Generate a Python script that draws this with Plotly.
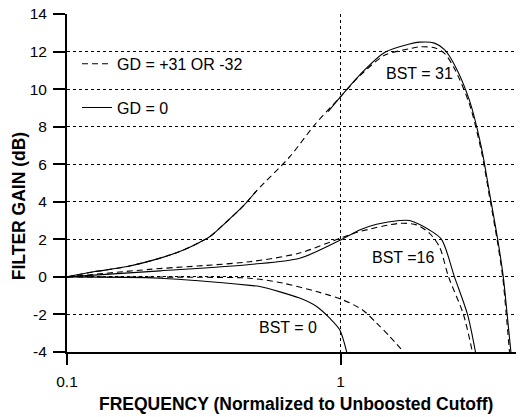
import numpy as np
import plotly.graph_objects as go

# ---- data ----
# BST = 31
f31_dash = [0.1, 0.125, 0.166, 0.219, 0.258, 0.306, 0.333, 0.384, 0.439, 0.494, 0.652, 0.804, 1.0,
            1.173, 1.447, 1.786, 1.942, 2.204, 2.396, 2.605, 2.956, 3.268, 3.497, 3.739, 3.91, 4.03, 4.14]
g31_dash = [0.0, 0.27, 0.55, 1.0, 1.35, 1.85, 2.15, 2.95, 3.75, 4.6, 6.4, 8.1, 9.6,
            10.7, 11.8, 12.15, 12.25, 12.2, 11.9, 11.1, 9.2, 6.7, 4.3, 1.9, 0.0, -2.0, -4.0]
f31_solid = [0.1, 0.125, 0.166, 0.219, 0.258, 0.306, 0.333, 0.384, 0.439, 0.494, None,
             0.9, 1.0, 1.173, 1.447, 1.786, 1.942, 2.204, 2.396, 2.605, 2.956, 3.268, 3.497, 3.739, 3.93, 4.06, 4.19]
g31_solid = [0.0, 0.27, 0.55, 1.0, 1.35, 1.85, 2.15, 2.95, 3.75, 4.6, None,
             8.8, 9.6, 10.75, 11.95, 12.4, 12.5, 12.45, 12.1, 11.3, 9.4, 6.9, 4.5, 2.1, 0.0, -2.0, -4.0]
# BST = 16
f16_dash = [0.1, 0.2, 0.466, 0.708, 1.0, 1.173, 1.642, 1.894, 2.11, 2.297, 2.48, 2.81, 3.03]
g16_dash = [0.0, 0.4, 0.81, 1.27, 2.07, 2.41, 2.85, 2.77, 2.33, 1.6, 0.0, -2.0, -4.0]
f16_solid = [0.1, 0.219, 0.466, 0.708, 1.0, 1.173, 1.353, 1.642, 1.786, 2.11, 2.337, 2.606, 2.908, 3.11]
g16_solid = [0.0, 0.32, 0.66, 0.99, 1.97, 2.5, 2.8, 3.0, 3.0, 2.5, 2.0, 0.0, -2.0, -4.0]
# BST = 0
f0_dash = [0.1, 0.3, 0.466, 0.614, 0.817, 1.017, 1.203, 1.353, 1.51, 1.70]
g0_dash = [0.0, -0.02, -0.07, -0.33, -0.78, -1.22, -1.76, -2.46, -3.17, -4.0]
f0_solid = [0.1, 0.219, 0.466, 0.506, 0.708, 0.817, 0.912, 0.992, 1.052]
g0_solid = [0.0, -0.07, -0.45, -0.51, -1.13, -1.58, -2.2, -2.82, -4.0]

legend_names = ["GD = +31 OR -32", "GD = 0"]
curve_labels = ["BST = 31", "BST =16", "BST = 0"]
label_f = [1.94, 1.70, 0.641]
label_g = [10.85, 1.01, -2.71]

x_ticks = [0.1, 1, 4.6]
x_ticktext = ["0.1", "1", "4"]
y_ticks = [-4, -2, 0, 2, 4, 6, 8, 10, 12, 14]
y_ticktext = ["-4", "-2", "0", "2", "4", "6", "8", "10", "12", "14"]
x_title = "FREQUENCY (Normalized to Unboosted Cutoff)"
y_title = "FILTER GAIN (dB)"

FONT = "Liberation Sans, Arial, Helvetica, sans-serif"
DASH = "6px,4px"

fig = go.Figure()
series = [
    (f31_dash, g31_dash, DASH, "gd31", True, legend_names[0]),
    (f31_solid, g31_solid, "solid", "gd0", True, legend_names[1]),
    (f16_dash, g16_dash, DASH, "gd31", False, legend_names[0]),
    (f16_solid, g16_solid, "solid", "gd0", False, legend_names[1]),
    (f0_dash, g0_dash, DASH, "gd31", False, legend_names[0]),
    (f0_solid, g0_solid, "solid", "gd0", False, legend_names[1]),
]
for fx, gy, dash, grp, show, name in series:
    fig.add_trace(go.Scatter(
        x=fx, y=gy, mode="lines", name=name, legendgroup=grp, showlegend=show,
        line=dict(color="black", width=1.1, dash=dash, shape="spline", smoothing=0.8),
        connectgaps=False,
    ))

for txt, fx, gy in zip(curve_labels, label_f, label_g):
    fig.add_annotation(x=np.log10(fx), y=gy, text=txt, showarrow=False,
                       font=dict(family=FONT, size=16, color="black"))

fig.add_annotation(x=0.503, y=-0.154, xref="paper", yref="paper", text="<b>%s</b>" % x_title,
                   xanchor="center", yanchor="middle",
                   showarrow=False, font=dict(family=FONT, size=17.5, color="black"))
fig.add_annotation(x=-0.105, y=0.432, xref="paper", yref="paper", text="<b>%s</b>" % y_title,
                   xanchor="center", yanchor="middle", borderpad=0,
                   textangle=-90, showarrow=False, font=dict(family=FONT, size=17.5, color="black"))

fig.update_layout(
    width=516, height=409,
    margin=dict(l=59, r=2, t=6, b=65, autoexpand=False),
    paper_bgcolor="white", plot_bgcolor="white",
    font=dict(family=FONT, size=15.5, color="black"),
    legend=dict(x=0.022, y=0.903, xanchor="left", yanchor="top", bgcolor="rgba(0,0,0,0)",
                traceorder="grouped", tracegroupgap=20, font=dict(size=16)),
    xaxis=dict(type="log", range=[np.log10(0.1), np.log10(4.6)], automargin=False,
               tickvals=x_ticks, ticktext=x_ticktext, ticklabeloverflow="allow",
               showgrid=True, gridcolor="black", gridwidth=1, griddash="3px,3px",
               showline=True, linecolor="black", linewidth=2.2,
               ticks="outside", ticklen=11, tickwidth=2, tickcolor="black",
               ticklabelstandoff=3, zeroline=False),
    yaxis=dict(range=[-4, 14], tickvals=y_ticks, ticktext=y_ticktext, automargin=False,
               ticklabeloverflow="allow",
               showgrid=True, gridcolor="black", gridwidth=1, griddash="3px,3px",
               showline=True, linecolor="black", linewidth=2,
               ticks="outside", ticklen=12, tickwidth=1.5, tickcolor="black",
               ticklabelstandoff=3, zeroline=False),
)

fig.write_html("out.html")
